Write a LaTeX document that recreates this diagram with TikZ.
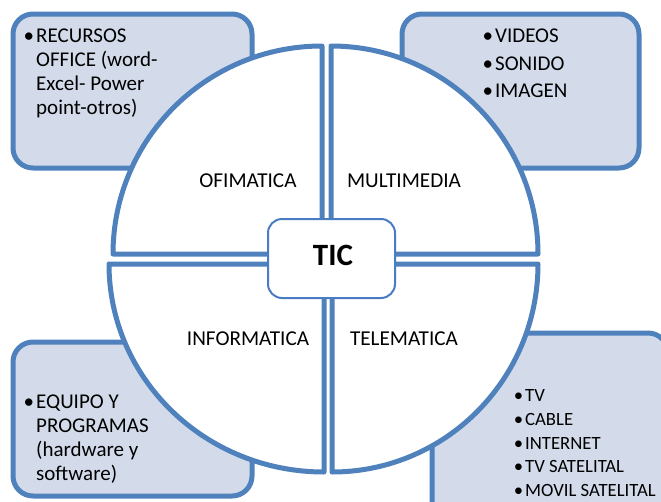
\documentclass[tikz,border=0pt]{standalone}
\usepackage{fontspec}
\setmainfont{Carlito}
\definecolor{edgeblue}{HTML}{4F81BD}
\definecolor{tileblue}{HTML}{D3DBEA}
\definecolor{hubblue}{HTML}{4A7CC4}
\tikzset{
  x=1pt,y=-1pt,
  tile/.style={draw=edgeblue,fill=tileblue,line width=5pt,rounded corners=20pt},
  wedge/.style={draw=edgeblue,fill=white,line width=5pt,line join=round},
  hub/.style={draw=hubblue,fill=white,line width=2pt,rounded corners=14pt},
  label/.style={font=\fontsize{21.2pt}{24pt}\selectfont,inner sep=0pt,anchor=center,text=black},
  body/.style={font=\fontsize{21pt}{24pt}\selectfont,inner sep=0pt,anchor=north west,align=left,text=black},
  airy/.style={font=\fontsize{21pt}{27.5pt}\selectfont,inner sep=0pt,anchor=north west,align=left,text=black},
  small/.style={font=\fontsize{18.7pt}{23.7pt}\selectfont,inner sep=0pt,anchor=north west,align=left,text=black}
}
\newcommand{\bul}{\llap{•\hspace{2pt}}}
\begin{document}
\begin{tikzpicture}
\useasboundingbox (0,0) rectangle (661,501);
\clip (0,0) rectangle (661,501);
\draw[tile] (13,14) rectangle (252,168);
\draw[tile] (402,14) rectangle (639,168);
\draw[tile] (13,342) rectangle (252,496);
\draw[tile] (432,333) rectangle (668,520);
\draw[wedge] (322,254) -- (322,46) arc[start angle=90,end angle=180,x radius=209,y radius=-208] -- cycle;
\draw[wedge] (331,254) -- (331,46) arc[start angle=90,end angle=0,x radius=207,y radius=-208] -- cycle;
\draw[wedge] (324,264) -- (109,264) arc[start angle=180,end angle=270,x radius=215,y radius=-208] -- cycle;
\draw[wedge] (332,264) -- (538,264) arc[start angle=0,end angle=-90,x radius=206,y radius=-208] -- cycle;
\draw[hub] (268,219) rectangle (395,298);
\node[font=\fontsize{31pt}{33pt}\selectfont\bfseries,inner sep=0pt] (tic) at (333,255) {TIC};
\node[label] (ofi) at (248,181) {OFIMATICA};
\node[label] (mul) at (404,181) {MULTIMEDIA};
\node[label] (inf) at (248,339) {INFORMATICA};
\node[label] (tel) at (404,339) {TELEMATICA};
\node[body] (a) at (36,29) {\bul RECURSOS\\OFFICE (word-\\Excel- Power\\point-otros)};
\node[airy] (b) at (495,29) {\bul VIDEOS\\\bul SONIDO\\\bul IMAGEN};
\node[body] (c) at (36,395) {\bul EQUIPO Y\\PROGRAMAS\\(hardware y\\software)};
\node[small] (d) at (525,389.5) {\bul TV\\\bul CABLE\\\bul INTERNET\\\bul TV SATELITAL\\\bul MOVIL SATELITAL};
\end{tikzpicture}
\end{document}
